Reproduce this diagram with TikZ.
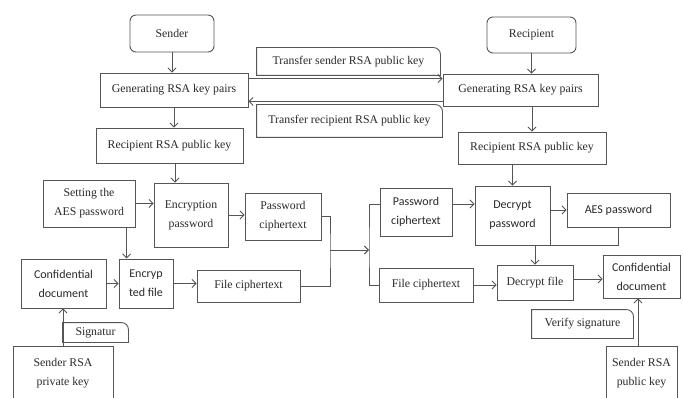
\documentclass[tikz,border=0pt]{standalone}
\usepackage{fontspec}
\setmainfont{Liberation Serif}
\newfontfamily\calib{Carlito}
\usetikzlibrary{arrows.meta,calc}
\definecolor{ln}{HTML}{555555}
\definecolor{tx}{HTML}{2a2a2a}
\begin{document}
\begin{tikzpicture}[x=1pt,y=-1pt,
  box/.style={draw=ln, line width=0.9pt, inner sep=0pt, align=center, text=tx,
    font=\fontsize{11.8}{19}\selectfont},
  sbox/.style={box, font=\calib\fontsize{12}{19}\selectfont},
  rbox/.style={box, rounded corners=6pt},
  cbox/.style={box, draw=none},
  arr/.style={draw=ln, line width=0.9pt, -{Straight Barb[length=4pt,width=8pt]}},
  ln/.style={draw=ln, line width=0.9pt}]
\useasboundingbox (0,0) rectangle (683,398);
\fill[white] (0,0) rectangle (683,398);
% nodes
\node[rbox, minimum width=84, minimum height=37] (sender) at (172,33.5) {Sender};
\node[rbox, minimum width=89, minimum height=36] (recip) at (531.5,35) {Recipient};
\node[box, minimum width=148, minimum height=34] (genL) at (174,90) {Generating RSA key pairs};
\node[box, minimum width=155, minimum height=32] (genR) at (520.5,90) {Generating RSA key pairs};
\node[cbox, minimum width=183, minimum height=27] (ts) at (348.5,61.5) {Transfer sender RSA public key};
\node[cbox, minimum width=185, minimum height=32] (tr) at (349.5,121) {Transfer recipient RSA public key};
\node[box, minimum width=147, minimum height=35] (rpkL) at (169.5,145.5) {Recipient RSA public key};
\node[box, minimum width=148, minimum height=32] (rpkR) at (532,148) {Recipient RSA public key};
\node[box, minimum width=92, minimum height=47] (setaes) at (89,203.5) {Setting the\\AES password};
\node[box, minimum width=74, minimum height=64] (encpw) at (191,215) {Encryption\\password};
\node[box, minimum width=76, minimum height=47] (pctL) at (283,216.5) {Password\\ciphertext};
\node[sbox, minimum width=85, minimum height=49] (confL) at (63.5,283.5) {Confidential\\document};
\node[sbox, minimum width=54, minimum height=49] (encf) at (146,283.5) {Encryp\\ted file};
\node[box, minimum width=103, minimum height=32] (fctL) at (248.5,286) {File ciphertext};
\node[cbox, minimum width=65, minimum height=19] (sig) at (95.5,332.5) {Signatur};
\node[box, minimum width=100, minimum height=54] (skL) at (63,373) {Sender RSA\\private key};
\node[sbox, minimum width=72, minimum height=48] (pctR) at (416,212) {Password\\ciphertext};
\node[sbox, minimum width=75, minimum height=59] (decpw) at (512.5,215.5) {Decrypt\\password};
\node[sbox, minimum width=103, minimum height=34] (aes) at (618.5,210) {AES password};
\node[box, minimum width=94, minimum height=34] (fctR) at (426,285) {File ciphertext};
\node[box, minimum width=76, minimum height=35] (decf) at (535,282.5) {Decrypt file};
\node[sbox, minimum width=77, minimum height=43] (confR) at (641.5,276.5) {Confidential\\document};
\node[cbox, minimum width=101, minimum height=28] (ver) at (582.5,324) {Verify signature};
\node[box, minimum width=71, minimum height=54] (pkR) at (641.5,373) {Sender RSA\\public key};
% callout borders (rounded top-right corner)
\foreach \n in {ts,tr,sig,ver}{
  \draw[ln] (\n.south west) -- (\n.north west) -- ([xshift=-7pt]\n.north east)
    arc[start angle=90,end angle=0,radius=7pt] -- (\n.south east) -- cycle;
}
% connectors
\draw[arr] (sender.south) -- (sender.south |- genL.north);
\draw[arr] (recip.south) -- (recip.south |- genR.north);
\draw[arr] ([yshift=-6pt]genL.north east) -- ([yshift=-6pt]genL.north east -| genR.west);
\draw[arr] ([yshift=6pt]genL.south east -| genR.west) -- ([yshift=6pt]genL.south east);
\draw[arr] (genL.south) -- (genL.south |- rpkL.north);
\draw[arr] (rpkR.north |- genR.south) -- (rpkR.north);
\draw[arr] ([xshift=5.5pt]rpkL.south) -- ([xshift=5.5pt]rpkL.south |- encpw.north);
\draw[arr] (setaes.east) -- (setaes.east -| encpw.west);
\draw[arr] ([xshift=8pt]encf.north west |- setaes.south) -- ([xshift=8pt]encf.north west);
\draw[arr] (encpw.east) -- (encpw.east -| pctL.west);
\draw[arr] (confL.east) -- (encf.west);
\draw[arr] (encf.east) -- (encf.east -| fctL.west);
\coordinate (j1) at (330,250);
\coordinate (j2) at (369,250);
\draw[ln] (pctL.east) -| (j1) |- (fctL.east);
\draw[arr] (j1) -- (j2);
\draw[ln] ([yshift=8pt]pctR.west) -| (j2) |- (fctR.west);
\draw[arr] ([yshift=8pt]pctR.east) -- ([yshift=8pt]pctR.east -| decpw.west);
\draw[arr] (decpw.north |- rpkR.south) -- (decpw.north);
\draw[arr] (aes.west -| decpw.east) -- (aes.west);
\draw[arr] (aes.south) -- ++(0,18) -| (decf.north);
\draw[arr] (fctR.east) -- (fctR.east -| decf.west);
\draw[arr] ([yshift=3.5pt]decf.east) -- ([yshift=3.5pt]decf.east -| confR.west);
\draw[arr] ([xshift=-3.5pt]pkR.north) -- ([xshift=-3.5pt]pkR.north |- confR.south);
\draw[arr] (skL.north) -- (skL.north |- confL.south);
\end{tikzpicture}
\end{document}
